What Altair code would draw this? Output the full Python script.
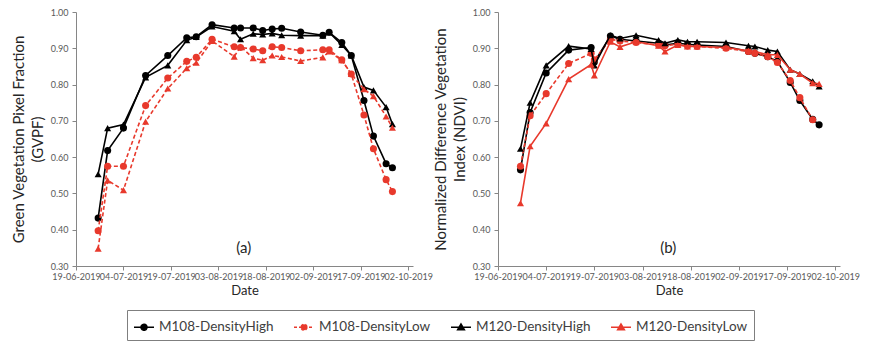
import altair as alt
import pandas as pd

SERIES = ["M108-DensityHigh", "M108-DensityLow", "M120-DensityHigh", "M120-DensityLow"]
COLORS = ["#000000", "#E8392C", "#000000", "#E8392C"]
SHAPES = ["circle", "circle", "triangle-up", "triangle-up"]

# Panel (a): GVPF
dates_a = ["2019-06-26", "2019-06-29", "2019-07-04", "2019-07-11", "2019-07-18", "2019-07-24",
           "2019-07-27", "2019-08-01", "2019-08-08", "2019-08-10", "2019-08-14", "2019-08-17",
           "2019-08-20", "2019-08-23", "2019-08-29", "2019-09-05", "2019-09-07", "2019-09-11",
           "2019-09-14", "2019-09-18", "2019-09-21", "2019-09-25", "2019-09-27"]
gvpf_m108_high = [0.432, 0.618, 0.680, 0.825, 0.880, 0.929, 0.932, 0.965, 0.956, 0.956, 0.956, 0.949,
                  0.953, 0.955, 0.945, 0.936, 0.944, 0.916, 0.880, 0.756, 0.658, 0.582, 0.571]
gvpf_m108_low = [0.397, 0.575, 0.575, 0.742, 0.818, 0.864, 0.875, 0.925, 0.904, 0.902, 0.898, 0.893,
                 0.904, 0.902, 0.893, 0.896, 0.896, 0.868, 0.829, 0.716, 0.623, 0.538, 0.505]
gvpf_m120_high = [0.553, 0.680, 0.690, 0.820, 0.853, 0.922, 0.931, 0.960, 0.947, 0.925, 0.940, 0.938,
                  0.941, 0.936, 0.935, 0.935, 0.944, 0.909, 0.880, 0.793, 0.784, 0.738, 0.691]
gvpf_m120_low = [0.348, 0.536, 0.509, 0.698, 0.789, 0.845, 0.860, 0.920, 0.877, 0.905, 0.873, 0.867,
                 0.880, 0.876, 0.865, 0.875, 0.891, 0.867, 0.829, 0.787, 0.768, 0.712, 0.681]

# Panel (b): NDVI
dates_b = ["2019-06-26", "2019-06-29", "2019-07-04", "2019-07-11", "2019-07-18", "2019-07-19",
           "2019-07-24", "2019-07-27", "2019-08-01", "2019-08-08", "2019-08-10", "2019-08-14",
           "2019-08-17", "2019-08-20", "2019-08-29", "2019-09-05", "2019-09-07", "2019-09-11",
           "2019-09-14", "2019-09-18", "2019-09-21", "2019-09-25", "2019-09-27"]
ndvi_m108_high = [0.565, 0.723, 0.832, 0.895, 0.902, 0.862, 0.934, 0.925, 0.920, 0.914, 0.909, 0.914,
                  0.911, 0.909, 0.905, 0.891, 0.886, 0.877, 0.864, 0.806, 0.756, 0.704, 0.689]
ndvi_m108_low = [0.575, 0.714, 0.775, 0.858, 0.886, 0.868, 0.925, 0.920, 0.916, 0.909, 0.907, 0.911,
                 0.906, 0.905, 0.900, 0.891, 0.886, 0.877, 0.861, 0.811, 0.764, 0.703, None]
ndvi_m120_high = [0.623, 0.750, 0.853, 0.906, 0.898, 0.853, 0.936, 0.927, 0.936, 0.923, 0.914, 0.923,
                  0.918, 0.918, 0.916, 0.907, 0.905, 0.895, 0.891, 0.841, 0.829, 0.809, 0.795]
ndvi_m120_low = [0.473, 0.630, 0.693, 0.815, 0.855, 0.825, 0.918, 0.904, 0.918, 0.907, 0.891, 0.909,
                 0.905, 0.905, 0.902, 0.893, 0.891, 0.882, 0.882, 0.841, 0.829, 0.804, 0.802]

x_ticks = ["2019-06-19", "2019-07-04", "2019-07-19", "2019-08-03", "2019-08-18",
           "2019-09-02", "2019-09-17", "2019-10-02"]
y_ticks = [0.3, 0.4, 0.5, 0.6, 0.7, 0.8, 0.9, 1.0]
y_titles = [["Green Vegetation Pixel Fraction", "(GVPF)"],
            ["Normalized Difference Vegetation", "Index (NDVI)"]]
panel_labels = ["(a)", "(b)"]
panel_label_date = "2019-08-11"
panel_label_value = 0.35

DASH = [4, 2.5]
dashes_a = [None, DASH, None, DASH]
dashes_b = [None, DASH, None, None]
LEGEND_PATHS = [
    "M-1,0L1,0M0.3,0A0.3,0.3,0,1,1,-0.3,0A0.3,0.3,0,1,1,0.3,0Z",
    "M-1,0L1,0M0.3,0A0.3,0.3,0,1,1,-0.3,0A0.3,0.3,0,1,1,0.3,0Z",
    "M-1,0L1,0M0,-0.33L0.34,0.25L-0.34,0.25Z",
    "M-1,0L1,0M0,-0.33L0.34,0.25L-0.34,0.25Z",
]
LEGEND_DASHES = [[1, 0], [3, 2], [1, 0], [1, 0]]

FONT = "Lato"
AXIS_GRAY = "#868686"


def dt(s):
    y, m, d = (int(p) for p in s.split("-"))
    return alt.DateTime(year=y, month=m, date=d, utc=True)


def long_df(dates, cols):
    rows = []
    for name, vals in zip(SERIES, cols):
        for d, v in zip(dates, vals):
            if v is not None:
                rows.append({"date": d, "value": v, "series": name})
    return pd.DataFrame(rows)


x_enc = alt.X(
    "date:T",
    title="Date",
    scale=alt.Scale(type="utc", domain=[dt("2019-06-19"),
                                        alt.DateTime(year=2019, month=10, date=3, hours=12, utc=True)]),
    axis=alt.Axis(values=[dt(s) for s in x_ticks],
                  labelExpr="utcFormat(datum.value, '%d-%m-%Y')",
                  labelAngle=0, labelOverlap=False, labelFlush=False, labelFontSize=9, labelFont=FONT,
                  labelColor="#595959", labelPadding=2, tickSize=4, tickColor=AXIS_GRAY,
                  domainColor=AXIS_GRAY, grid=False, titleFont=FONT, titleFontSize=13,
                  titleFontWeight="normal", titleColor="#262626", titlePadding=3),
)


def y_enc(title):
    return alt.Y(
        "value:Q",
        title=title,
        scale=alt.Scale(domain=[0.3, 1.0], nice=False, zero=False),
        axis=alt.Axis(values=y_ticks, tickCount=8, format=".2f", labelFontSize=9, labelFont=FONT,
                      labelOverlap=False, labelFlush=False, labelBound=False,
                      labelColor="#595959", labelPadding=4, tickSize=4, tickColor=AXIS_GRAY,
                      domainColor=AXIS_GRAY, grid=False, titleFont=FONT, titleFontSize=15,
                      titleFontWeight="normal", titleColor="#262626", titlePadding=5,
                      titleLineHeight=19),
    )


def panel(dates, cols, dashes, title, label, with_legend):
    df = long_df(dates, cols)
    ye = y_enc(title)
    layers = []
    for name, color, shape, dash in zip(SERIES, COLORS, SHAPES, dashes):
        kw = dict(color=color, strokeWidth=1.6)
        if dash is not None:
            kw["strokeDash"] = dash
        layers.append(
            alt.Chart(df)
            .transform_filter(alt.datum.series == name)
            .mark_line(point=alt.OverlayMarkDef(filled=True, shape=shape, size=50,
                                                color=color, opacity=1), **kw)
            .encode(x=x_enc, y=ye)
        )
    lab_df = pd.DataFrame({"date": [panel_label_date], "value": [panel_label_value], "label": [label]})
    layers.append(
        alt.Chart(lab_df).mark_text(font=FONT, fontSize=15, color="#262626")
        .encode(x=x_enc, y=ye, text="label:N")
    )
    if with_legend:
        leg = alt.Legend(title=None, orient="none", legendX=51, legendY=298,
                         direction="horizontal", columns=4, symbolSize=400,
                         symbolStrokeWidth=1.5, labelFont=FONT, labelFontSize=13.5,
                         labelColor="#404040", strokeColor="#7f7f7f", padding=6,
                         columnPadding=17, labelOffset=4, fillColor="white")
        layers.append(
            alt.Chart(df).transform_filter("false")
            .mark_point(filled=True, size=400, strokeWidth=1.5, opacity=1)
            .encode(
                fill=alt.Fill("series:N", scale=alt.Scale(domain=SERIES, range=COLORS), legend=leg),
                stroke=alt.Stroke("series:N", scale=alt.Scale(domain=SERIES, range=COLORS), legend=leg),
                shape=alt.Shape("series:N", scale=alt.Scale(domain=SERIES, range=LEGEND_PATHS), legend=leg),
                strokeDash=alt.StrokeDash("series:N", scale=alt.Scale(domain=SERIES, range=LEGEND_DASHES),
                                          legend=leg),
            )
        )
    return alt.layer(*layers).properties(width=337, height=254)


pa = panel(dates_a, [gvpf_m108_high, gvpf_m108_low, gvpf_m120_high, gvpf_m120_low],
           dashes_a, y_titles[0], panel_labels[0], True)
pb = panel(dates_b, [ndvi_m108_high, ndvi_m108_low, ndvi_m120_high, ndvi_m120_low],
           dashes_b, y_titles[1], panel_labels[1], False).properties(width=342)

chart = (
    alt.hconcat(pa, pb, spacing=0)
    .properties(padding={"left": 3, "top": 0, "right": 0, "bottom": 0})
    .configure_view(stroke=None)
    .configure_axisY(labelOverlap=False)
)

chart.save("out.html", embed_options={"renderer": "svg", "actions": False})
